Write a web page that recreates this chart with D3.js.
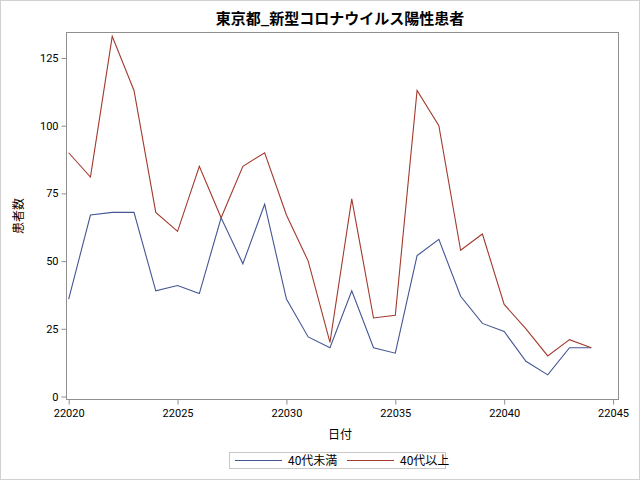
<!DOCTYPE html>
<html><head><meta charset="utf-8">
<script src="https://cdn.jsdelivr.net/npm/d3@7"></script>
<style>body{margin:0;background:#fff}svg{display:block}</style>
</head><body>
<script>
const days = d3.range(22020, 22045);
const under40 = [36,67,68,68,39,41,38,66,49,71,36,22,18,39,18,16,52,58,37,27,24,13,8,18,18];
const over40  = [90,81,133,113,68,61,85,66,85,90,67,50,20,73,29,30,113,100,54,60,34,25,15,21,18];
const xTicks = [22020,22025,22030,22035,22040,22045];
const yTicks = [0,25,50,75,100,125];
const seriesNames = ["40代未満","40代以上"];
const colors = ["#445694","#A23A2E"];
const title = "東京都_新型コロナウイルス陽性患者";

const W=640,H=480;
const svg=d3.select("body").append("svg").attr("width",W).attr("height",H);
const jp='"Noto Sans CJK JP", sans-serif';
svg.append("rect").attr("x",0.5).attr("y",0.5).attr("width",W-1).attr("height",H-1)
  .attr("fill","#fff").attr("stroke","#d0d0d0");

const L=66.5,R=618.5,T=32.5,B=399.5;
const x=d3.scaleLinear().domain([22019.9,22045.25]).range([L,R]);
const y=d3.scaleLinear().domain([-1.1,134.4]).range([B,T]);

svg.append("text").attr("x",340).attr("y",24).attr("text-anchor","middle")
  .attr("font-family",jp).attr("font-weight","bold").attr("font-size",15).text(title);

const gx=svg.append("g").attr("transform",`translate(0,${B})`)
  .call(d3.axisBottom(x).tickValues(xTicks).tickFormat(d3.format("d")).tickSize(5).tickSizeOuter(0));
const gy=svg.append("g").attr("transform",`translate(${L},0)`)
  .call(d3.axisLeft(y).tickValues(yTicks).tickSize(5).tickSizeOuter(0));
[gx,gy].forEach(g=>{
  g.select(".domain").remove();
  g.selectAll("line").attr("stroke","#909090");
  g.selectAll("text").attr("font-family","Roboto, sans-serif").attr("font-size",11).attr("fill","#000");
});
gx.selectAll("text").attr("dy","0.9em");

svg.append("rect").attr("x",L).attr("y",T).attr("width",R-L).attr("height",B-T)
  .attr("fill","none").attr("stroke","#909090");

const line=d3.line().x((d,i)=>x(days[i])).y(d=>y(d));
[under40,over40].forEach((s,k)=>{
  svg.append("path").datum(s).attr("d",line).attr("fill","none")
    .attr("stroke",colors[k]).attr("stroke-width",1.1);
});

svg.append("text").attr("transform","translate(23,216) rotate(-90)").attr("text-anchor","middle")
  .attr("font-family",jp).attr("font-size",12).text("患者数");
svg.append("text").attr("x",340).attr("y",439).attr("text-anchor","middle")
  .attr("font-family",jp).attr("font-size",12).text("日付");

svg.append("rect").attr("x",229.5).attr("y",452.5).attr("width",216).attr("height",16)
  .attr("fill","none").attr("stroke","#c8c8c8");
const lx=[235,347];
seriesNames.forEach((n,k)=>{
  svg.append("line").attr("x1",lx[k]).attr("x2",lx[k]+47).attr("y1",460.5).attr("y2",460.5)
    .attr("stroke",colors[k]).attr("stroke-width",1.1);
  svg.append("text").attr("x",lx[k]+53).attr("y",465).attr("font-family",jp).attr("font-size",12).text(n);
});
</script>
</body></html>
